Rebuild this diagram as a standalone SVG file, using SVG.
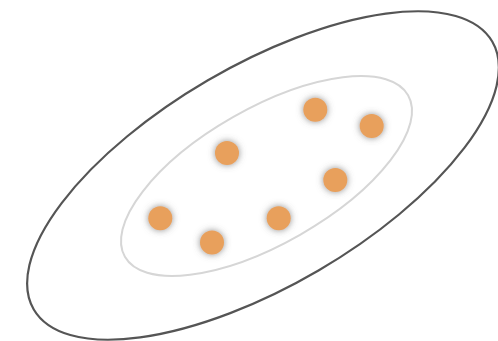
<svg xmlns="http://www.w3.org/2000/svg" width="498" height="341" viewBox="0 0 498 341">
<defs>
<filter id="sh" x="-100%" y="-100%" width="300%" height="300%">
<feDropShadow dx="0" dy="0" stdDeviation="3.5" flood-color="#666" flood-opacity="0.75"/>
</filter>
<style>
.dot{fill:#E8A05B;filter:url(#sh)}
.outer{fill:none;stroke:#555;stroke-width:2.2}
.inner{fill:none;stroke:#d6d6d6;stroke-width:2}
</style>
</defs>
<rect width="498" height="341" fill="#fff"/>
<g id="outer-set"><ellipse class="outer" cx="263" cy="175.5" rx="265.5" ry="110" transform="rotate(-30.3 263 175.5)"/></g>
<g id="inner-set"><ellipse class="inner" cx="266.5" cy="176" rx="163" ry="67.7" transform="rotate(-29.7 266.5 176)"/></g>
<g id="p1"><circle class="dot" cx="160.3" cy="218.3" r="12"/></g>
<g id="p2"><circle class="dot" cx="212" cy="242.5" r="12"/></g>
<g id="p3"><circle class="dot" cx="227" cy="153" r="12"/></g>
<g id="p4"><circle class="dot" cx="278.7" cy="218.3" r="12"/></g>
<g id="p5"><circle class="dot" cx="315.3" cy="109.7" r="12"/></g>
<g id="p6"><circle class="dot" cx="335.3" cy="180" r="12"/></g>
<g id="p7"><circle class="dot" cx="371.7" cy="126" r="12"/></g>
<g id="connectors"/>
</svg>
